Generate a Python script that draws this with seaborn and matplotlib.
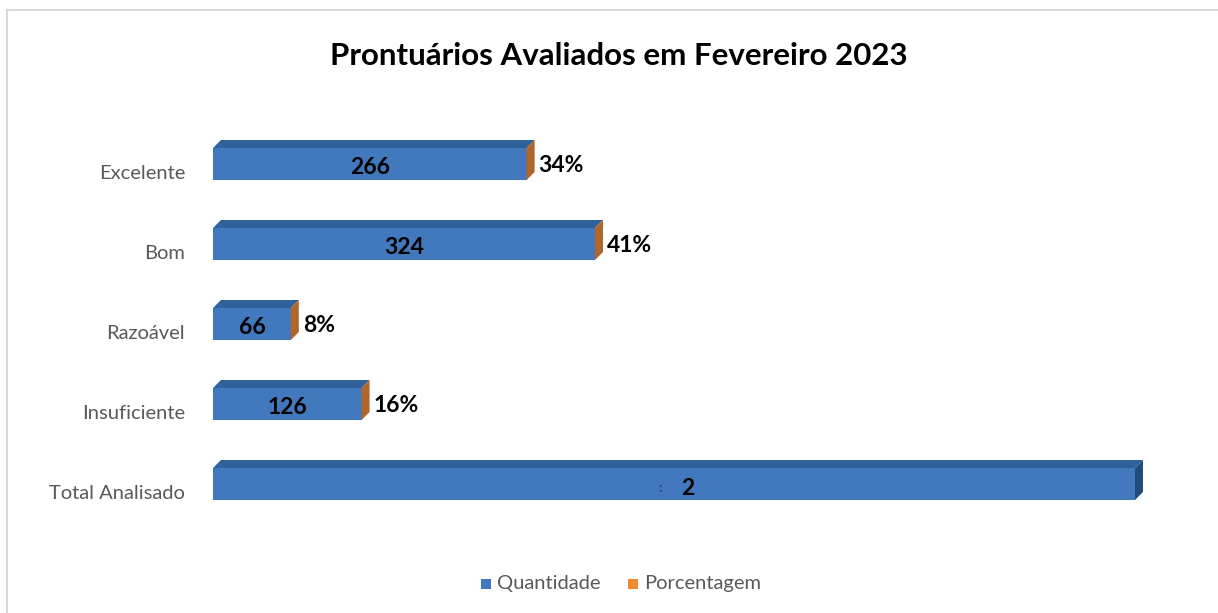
import numpy as np
import pandas as pd
import seaborn as sns
import matplotlib.pyplot as plt
from matplotlib.patches import Polygon, Rectangle

# dados
categorias = ['Excelente', 'Bom', 'Razoável', 'Insuficiente', 'Total Analisado']
quantidade = [266, 324, 66, 126, 782]
porcentagem = [34, 41, 8, 16, None]

sns.set_theme(style="white")
plt.rcParams['font.family'] = ['Lato', 'DejaVu Sans']

cor_frente = "#4178BE"
cor_topo = "#2F619A"
cor_lado = "#1F4E7C"
cor_lado_pct = "#B0652A"
cor_laranja = "#F08A2E"

W, H = 1218, 613
fig = plt.figure(figsize=(W / 100, H / 100), dpi=100)

# eixo posicionado em pixels
x0_px, x1_px = 213, 1135
ytop_px, ybot_px = 116, 532
ax = fig.add_axes([x0_px / W, 1 - ybot_px / H, (x1_px - x0_px) / W, (ybot_px - ytop_px) / H])

df = pd.DataFrame({'Categoria': categorias, 'Quantidade': quantidade})
sns.barplot(data=df, y='Categoria', x='Quantidade', orient='h', color=cor_frente,
            saturation=1, width=0.4, linewidth=0, ax=ax)
ax.set_xlim(0, max(quantidade))
ax.set_ylim(4.6, -0.6)

# profundidade 3D (em unidades de dados)
px_x = (x1_px - x0_px) / max(quantidade)
px_y = (ybot_px - ytop_px) / 5.2
dx = 8 / px_x
dy = 8 / px_y

for i, bar in enumerate(ax.patches):
    bx, by = bar.get_x(), bar.get_y()
    bw, bh = bar.get_width(), bar.get_height()
    topo = Polygon([(bx, by), (bx + bw, by), (bx + bw + dx, by - dy), (bx + dx, by - dy)],
                   closed=True, facecolor=cor_topo, edgecolor='none', clip_on=False)
    lado_cor = cor_lado_pct if porcentagem[i] is not None else cor_lado
    lado = Polygon([(bx + bw, by), (bx + bw + dx, by - dy), (bx + bw + dx, by + bh - dy),
                    (bx + bw, by + bh)],
                   closed=True, facecolor=lado_cor, edgecolor='none', clip_on=False)
    ax.add_patch(topo)
    ax.add_patch(lado)

    yc = by + bh / 2
    if porcentagem[i] is not None:
        ax.text(bx + bw / 2, yc + 0.05, str(quantidade[i]), ha='center', va='center',
                fontsize=16.5, fontweight='bold', color='black')
        ax.text(bx + bw + dx + 4 / px_x, yc + 0.02, f"{porcentagem[i]}%", ha='left', va='center',
                fontsize=16.5, fontweight='bold', color='black')
    else:
        # rótulo do total aparece parcialmente encoberto no original
        ax.text(bx + bw / 2 + 12, yc + 0.05, "2", ha='center', va='center',
                fontsize=16.5, fontweight='bold', color='black')
        ax.text(bx + bw / 2 - 12, yc + 0.05, ":", ha='center', va='center',
                fontsize=10, color='#333333')

ax.set_yticks(np.arange(len(categorias)) + 0.1)
ax.set_yticklabels(categorias, fontsize=14.5, color='#595959')
ax.tick_params(axis='y', length=0, pad=20)
ax.set_xticks([])
ax.set_xlabel('')
ax.set_ylabel('')
sns.despine(ax=ax, left=True, bottom=True)

fig.text(619 / W, 1 - 56 / H, 'Prontuários Avaliados em Fevereiro 2023', ha='center', va='center',
         fontsize=22.5, fontweight='bold', color='black')

# legenda
fig.patches.append(Rectangle((481 / W, 1 - 589 / H), 10 / W, 10 / H, transform=fig.transFigure,
                             facecolor=cor_frente, edgecolor='none'))
fig.text(497 / W, 1 - 584 / H, 'Quantidade', ha='left', va='center', fontsize=14.5, color='#595959')
fig.patches.append(Rectangle((628 / W, 1 - 589 / H), 10 / W, 10 / H, transform=fig.transFigure,
                             facecolor=cor_laranja, edgecolor='none'))
fig.text(644 / W, 1 - 584 / H, 'Porcentagem', ha='left', va='center', fontsize=14.5, color='#595959')

# moldura do gráfico
fig.patches.append(Rectangle((7 / W, -0.01), 1.02, 1 - 10 / H + 0.01, transform=fig.transFigure,
                             facecolor='none', edgecolor='#D9D9D9', linewidth=1.5))

plt.savefig('out.png', dpi=100)
